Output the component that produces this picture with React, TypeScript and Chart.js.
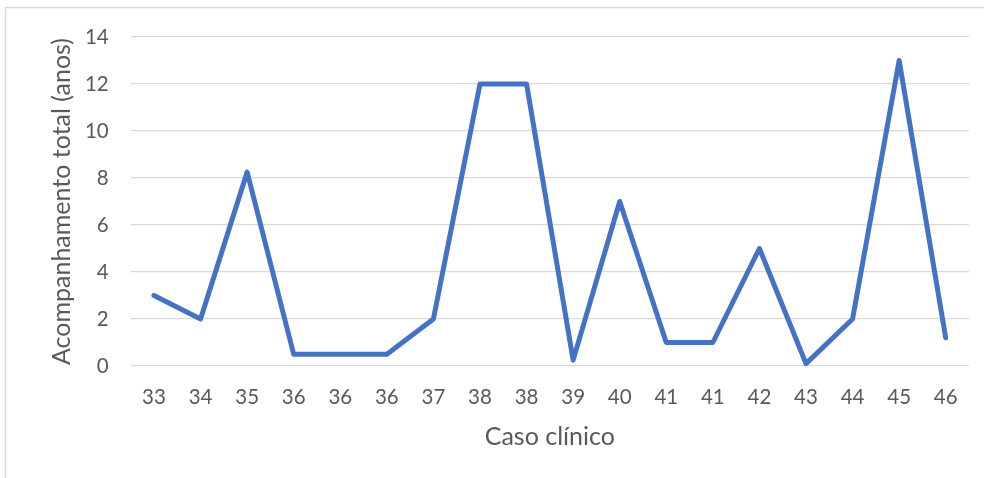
import React, { useEffect, useRef } from "react";
import { Chart, registerables } from "chart.js";

Chart.register(...registerables);

const categories = ["33", "34", "35", "36", "36", "36", "37", "38", "38", "39", "40", "41", "41", "42", "43", "44", "45", "46"];
const followUpYears = [3, 2, 8.25, 0.5, 0.5, 0.5, 2, 12, 12, 0.25, 7, 1, 1, 5, 0.1, 2, 13, 1.2];
const yTicks = [0, 2, 4, 6, 8, 10, 12, 14];
const xTitle = "Caso clínico";
const yTitle = "Acompanhamento total (anos)";

const FONT = "Lato, 'Open Sans', sans-serif";

const framePlugin = {
  id: "frame",
  beforeDraw(chart: any) {
    const { ctx, width, height } = chart;
    ctx.save();
    ctx.fillStyle = "#ffffff";
    ctx.fillRect(0, 0, width, height);
    ctx.strokeStyle = "#d9d9d9";
    ctx.lineWidth = 1.5;
    ctx.beginPath();
    ctx.moveTo(5.5, height + 5);
    ctx.lineTo(5.5, 7.5);
    ctx.lineTo(width + 5, 7.5);
    ctx.stroke();
    ctx.restore();
  },
};

export default function App() {
  const ref = useRef<HTMLCanvasElement | null>(null);

  useEffect(() => {
    if (!ref.current) return;
    const chart = new Chart(ref.current, {
      type: "line",
      data: {
        labels: categories,
        datasets: [
          {
            data: followUpYears,
            borderColor: "#4472C4",
            borderWidth: 5,
            pointRadius: 0,
            pointHoverRadius: 0,
            tension: 0,
            borderJoinStyle: "round",
            borderCapStyle: "round",
            fill: false,
          },
        ],
      },
      options: {
        responsive: false,
        animation: false,
        events: [],
        layout: { padding: { left: 43, right: 15, top: 37, bottom: 22 } },
        plugins: { legend: { display: false }, tooltip: { enabled: false } },
        scales: {
          x: {
            offset: true,
            grid: { display: false, drawTicks: false },
            border: { display: false },
            ticks: { color: "#595959", font: { family: FONT, size: 20.5 }, padding: 19, maxRotation: 0, autoSkip: false },
            title: { display: true, text: xTitle, color: "#595959", font: { family: FONT, size: 25 }, padding: { top: 4, bottom: 4 } },
            afterFit: (s: any) => { s.height = 90; },
          },
          y: {
            min: 0,
            max: 14,
            afterBuildTicks: (s: any) => { s.ticks = yTicks.map((v) => ({ value: v })); },
            grid: { color: "#d9d9d9", lineWidth: 1.3, drawTicks: false },
            border: { display: false },
            ticks: { color: "#595959", font: { family: FONT, size: 20.5 }, padding: 22 },
            title: { display: true, text: yTitle, color: "#595959", font: { family: FONT, size: 25 }, padding: { top: 4, bottom: 4 } },
            afterFit: (s: any) => { s.width = 87.7; },
          },
        },
      },
      plugins: [framePlugin],
    });
    return () => chart.destroy();
  }, []);

  return (
    <div style={{ position: "fixed", left: 0, top: 0, width: 984, height: 478 }}>
      <canvas ref={ref} width={984} height={478} />
    </div>
  );
}
